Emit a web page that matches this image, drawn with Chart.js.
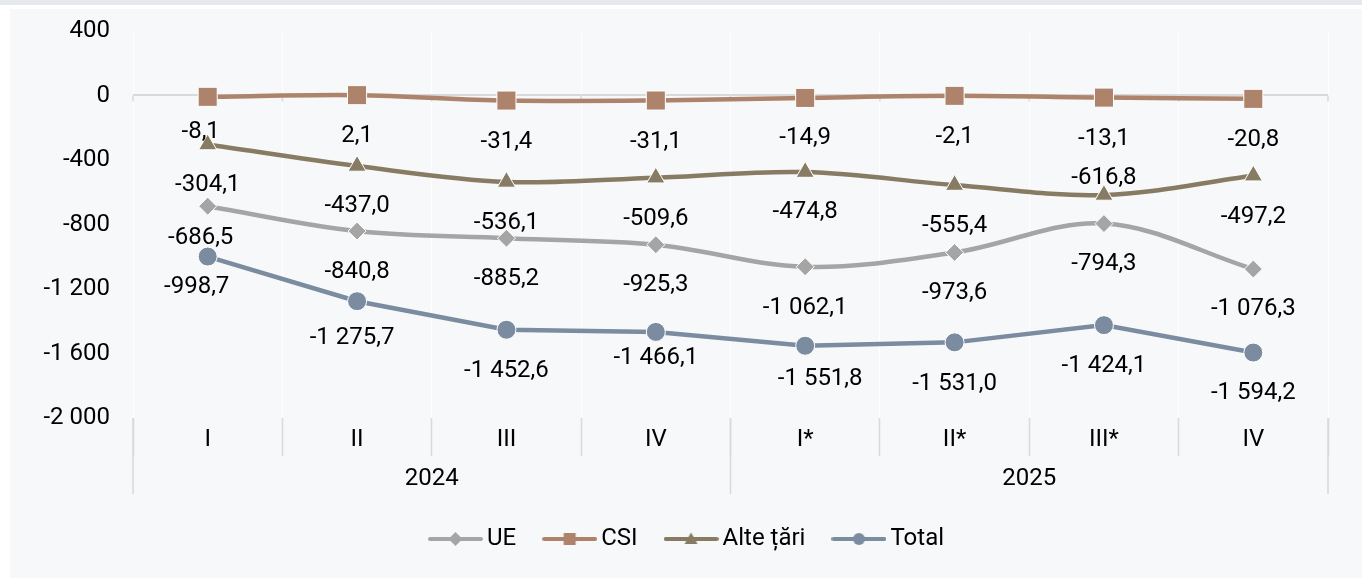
<!DOCTYPE html>
<html>
<head>
<meta charset="utf-8">
<script src="https://cdn.jsdelivr.net/npm/chart.js@4.4.1/dist/chart.umd.min.js"></script>
<style>
html,body{margin:0;padding:0;background:#ffffff;overflow:hidden;width:1362px;height:578px;}
#band{position:absolute;left:0;top:0;width:1362px;height:5px;background:#e5e8ec;}
#panel{position:absolute;left:10px;top:9px;width:1352px;height:569px;background:#f7f8fa;}
</style>
</head>
<body>
<div id="band"></div>
<div id="panel"><canvas id="c"></canvas></div>
<script>
// ---- data ----
const categories = ['I', 'II', 'III', 'IV', 'I*', 'II*', 'III*', 'IV'];
const years = ['2024', '2025'];
const yearSpans = [4, 4];
const seriesNames = ['UE', 'CSI', 'Alte țări', 'Total'];
const ueValues = [-686.5, -840.8, -885.2, -925.3, -1062.1, -973.6, -794.3, -1076.3];
const csiValues = [-8.1, 2.1, -31.4, -31.1, -14.9, -2.1, -13.1, -20.8];
const alteValues = [-304.1, -437.0, -536.1, -509.6, -474.8, -555.4, -616.8, -497.2];
const totalValues = [-998.7, -1275.7, -1452.6, -1466.1, -1551.8, -1531.0, -1424.1, -1594.2];
const yMin = -2000, yMax = 400, yStep = 400;

// ---- label placement (pixels relative to point) ----
const ueLabelDy = [32, 41, 41, 40, 41, 41, 40, 40];
const ueLabelDx = [-7, 0, 0, 0, 0, 0, 0, 0];
const csiLabelDy = [35, 41, 41, 41, 40, 41, 41, 41];
const csiLabelDx = [-7, 0, 0, 0, 0, 0, 0, 0];
const alteLabelDy = [40, 40, 41, 41, 40, 41, -17, 41];
const alteLabelDx = [0, 0, 0, 0, 0, 0, 0, 0];
const totalLabelDy = [30, 37, 41, 26, 33, 42, 41, 40];
const totalLabelDx = [-11, -5, 0, 0, 15, 0, 0, 0];

// ---- styles ----
const colors = ['#a5a5a5', '#ae836c', '#877c63', '#7b8ba0'];
const FONT = 'Roboto';

function fmtNum(v, dec) {
  const neg = v < 0;
  const parts = Math.abs(v).toFixed(dec).split('.');
  const intPart = parts[0].replace(/\B(?=(\d{3})+(?!\d))/g, ' ');
  return (neg ? '-' : '') + intPart + (parts[1] ? ',' + parts[1] : '');
}

function makeIcon(color, shape) {
  const c = document.createElement('canvas');
  c.width = 55; c.height = 20;
  const g = c.getContext('2d');
  g.strokeStyle = color; g.lineWidth = 4; g.lineCap = 'round';
  g.beginPath(); g.moveTo(2, 10); g.lineTo(53, 10); g.stroke();
  g.fillStyle = color;
  g.beginPath();
  const cx = 27.5, cy = 10;
  if (shape === 'diamond') {
    g.moveTo(cx - 7, cy); g.lineTo(cx, cy - 7); g.lineTo(cx + 7, cy); g.lineTo(cx, cy + 7); g.closePath();
  } else if (shape === 'square') {
    g.rect(cx - 6, cy - 6, 12, 12);
  } else if (shape === 'triangle') {
    g.moveTo(cx, cy - 6.5); g.lineTo(cx + 6.5, cy + 5); g.lineTo(cx - 6.5, cy + 5); g.closePath();
  } else {
    g.arc(cx, cy, 6, 0, Math.PI * 2);
  }
  g.fill();
  return c;
}
const legendIcons = [
  makeIcon(colors[0], 'diamond'),
  makeIcon(colors[1], 'square'),
  makeIcon(colors[2], 'triangle'),
  makeIcon(colors[3], 'circle')
];

const labelDys = [ueLabelDy, csiLabelDy, alteLabelDy, totalLabelDy];
const labelDxs = [ueLabelDx, csiLabelDx, alteLabelDx, totalLabelDx];

const legendFitPlugin = {
  id: 'legendFit',
  beforeLayout(chart) {
    const lg = chart.legend;
    if (lg && !lg._patched) {
      const orig = lg.fit;
      lg.fit = function () { orig.call(this); this.height = 85; };
      lg._patched = true;
    }
  },
  beforeDraw(chart) {
    const lg = chart.legend;
    if (lg) { lg.left = 0; lg.right = chart.width + 8; }
  }
};

const decorPlugin = {
  id: 'decor',
  beforeDatasetsDraw(chart) {
    const { ctx, scales: { x, y } } = chart;
    const y0 = y.getPixelForValue(0);
    ctx.save();
    ctx.strokeStyle = '#d9d9d9';
    ctx.lineWidth = 1.5;
    for (let i = 0; i <= categories.length; i++) {
      const px = x.getPixelForValue(i - 0.5);
      ctx.beginPath(); ctx.moveTo(px, y0); ctx.lineTo(px, y0 + 6); ctx.stroke();
    }
    ctx.restore();
  },
  afterDraw(chart) {
    const { ctx, chartArea, scales: { x } } = chart;
    const b = chartArea.bottom;
    ctx.save();
    ctx.strokeStyle = '#d9d9d9';
    ctx.lineWidth = 1.5;
    ctx.fillStyle = '#000000';
    ctx.font = '24px ' + FONT;
    ctx.textAlign = 'center';
    ctx.textBaseline = 'middle';
    let start = 0;
    const drawSep = (idx) => {
      const px = x.getPixelForValue(idx - 0.5);
      ctx.beginPath(); ctx.moveTo(px, b); ctx.lineTo(px, b + 76); ctx.stroke();
    };
    drawSep(0);
    years.forEach((yr, k) => {
      const end = start + yearSpans[k];
      drawSep(end);
      const mid = x.getPixelForValue((start + end - 1) / 2);
      ctx.fillText(yr, mid, b + 61);
      start = end;
    });
    ctx.restore();
  }
};

const labelPlugin = {
  id: 'pointLabels',
  afterDatasetsDraw(chart) {
    const ctx = chart.ctx;
    ctx.save();
    ctx.fillStyle = '#000000';
    ctx.font = '24px ' + FONT;
    ctx.textAlign = 'center';
    ctx.textBaseline = 'middle';
    chart.data.datasets.forEach((ds, d) => {
      const meta = chart.getDatasetMeta(d);
      meta.data.forEach((pt, i) => {
        ctx.fillText(fmtNum(ds.data[i], 1), pt.x + labelDxs[d][i], pt.y + labelDys[d][i]);
      });
    });
    ctx.restore();
  }
};

function ds(label, data, color, style, radius, tension) {
  return {
    label, data,
    borderColor: color, backgroundColor: color,
    borderWidth: 4.5,
    pointStyle: style, pointRadius: radius, pointHoverRadius: radius,
    pointBackgroundColor: color, pointBorderColor: '#ffffff', pointBorderWidth: 1,
    tension, fill: false, clip: false
  };
}

new Chart(document.getElementById('c'), {
  type: 'line',
  data: {
    labels: categories,
    datasets: [
      ds(seriesNames[0], ueValues, colors[0], 'rectRot', 9, 0.35),
      ds(seriesNames[1], csiValues, colors[1], 'rect', 13.5, 0.35),
      ds(seriesNames[2], alteValues, colors[2], 'triangle', 10.5, 0.35),
      ds(seriesNames[3], totalValues, colors[3], 'circle', 9.5, 0)
    ]
  },
  options: {
    responsive: true,
    maintainAspectRatio: false,
    animation: false,
    events: [],
    layout: { padding: { left: 0, right: 34, top: 22, bottom: 0 } },
    scales: {
      x: {
        offset: true,
        border: { display: false },
        grid: {
          offset: true, color: '#ffffff', lineWidth: 1,
          drawTicks: true, tickLength: 38, tickColor: '#d9d9d9', tickWidth: 1.5
        },
        ticks: {
          color: '#000000', font: { family: FONT, size: 24 },
          padding: -30, maxRotation: 0, autoSkip: false
        },
        afterFit(s) { s.height = 75; s.paddingLeft = 0; s.paddingRight = 0; }
      },
      y: {
        min: yMin, max: yMax,
        border: { display: false },
        grid: {
          drawTicks: false,
          color: (c) => (c.tick && c.tick.value === 0 ? '#d9d9d9' : 'rgba(0,0,0,0)'),
          lineWidth: 2
        },
        ticks: {
          stepSize: yStep, padding: 23, color: '#000000',
          font: { family: FONT, size: 24 },
          callback: (v) => fmtNum(v, 0)
        },
        afterFit(s) { s.width = 123; s.paddingTop = 0; s.paddingBottom = 0; }
      }
    },
    plugins: {
      legend: {
        display: true,
        position: 'bottom',
        labels: {
          usePointStyle: true,
          pointStyleWidth: 39,
          padding: 34,
          color: '#000000',
          font: { family: FONT, size: 24 },
          generateLabels(chart) {
            const items = Chart.defaults.plugins.legend.labels.generateLabels(chart);
            return items.map((it, i) => Object.assign(it, { pointStyle: legendIcons[i], lineWidth: 0 }));
          }
        }
      },
      tooltip: { enabled: false }
    }
  },
  plugins: [legendFitPlugin, decorPlugin, labelPlugin]
});
</script>
</body>
</html>
